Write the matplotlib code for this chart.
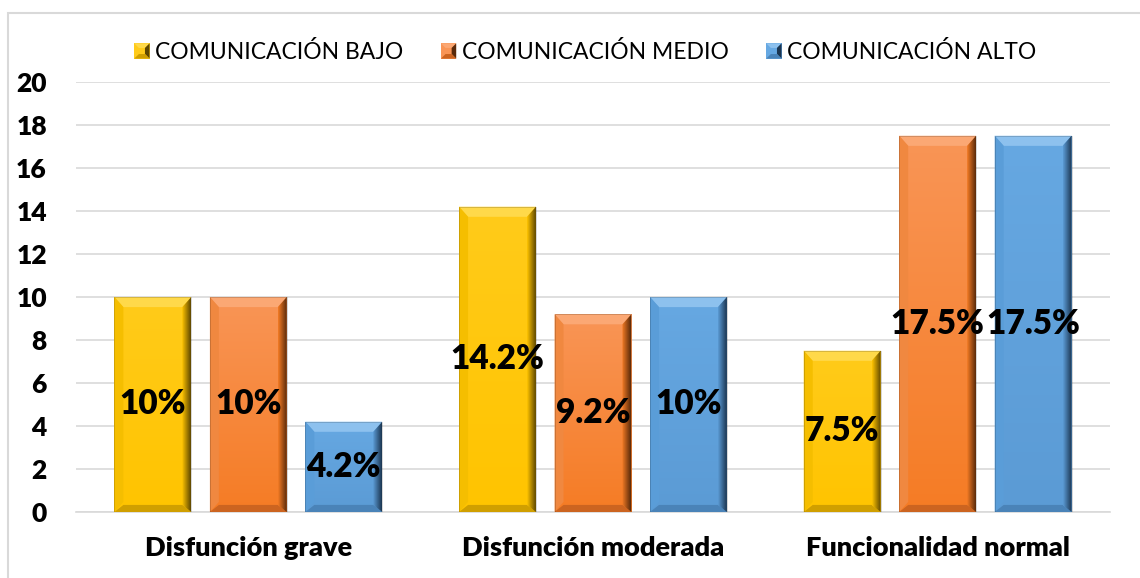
import numpy as np
import matplotlib as mpl
import matplotlib.pyplot as plt
from matplotlib.patches import Polygon, Rectangle
from matplotlib.legend_handler import HandlerBase
from matplotlib.colors import to_rgb

mpl.rcParams["font.family"] = ["Lato", "DejaVu Sans"]

categories = ["Disfunción grave", "Disfunción moderada", "Funcionalidad normal"]
series = ["COMUNICACIÓN BAJO", "COMUNICACIÓN MEDIO", "COMUNICACIÓN ALTO"]
bajo = [10, 14.2, 7.5]
medio = [10, 9.2, 17.5]
alto = [4.2, 10, 17.5]
yticks = [0, 2, 4, 6, 8, 10, 12, 14, 16, 18, 20]

# body top, body bottom, top bevel, left bevel, right bevel dark, bottom bevel
palette = [
	dict(top="#FFCB1A", bot="#FFC400", hi="#FFD94A", lf="#F5BE00", dk="#5E4700", bt="#D09F00"),
	dict(top="#F99556", bot="#F57C25", hi="#FBA874", lf="#F08840", dk="#5A2A0A", bt="#CC6420"),
	dict(top="#66A8E2", bot="#5B9BD5", hi="#8DC1EE", lf="#5A9DD8", dk="#1B3550", bt="#4A83B8"),
]


def grad_fill(ax, clip, extent, c0, c1, horizontal=False, z=3):
	c0, c1 = np.array(to_rgb(c0)), np.array(to_rgb(c1))
	t = np.linspace(0, 1, 64)
	g = c0[None, :] * (1 - t[:, None]) + c1[None, :] * t[:, None]
	img = g[None, :, :] if horizontal else g[:, None, :]
	im = ax.imshow(img, extent=extent, origin="upper" if not horizontal else "lower",
		aspect="auto", zorder=z, interpolation="bilinear")
	im.set_clip_path(clip)


def bevel_bar(ax, rect, pal, dx, dy):
	x0, w, h = rect.get_x(), rect.get_width(), rect.get_height()
	x1 = x0 + w
	grad_fill(ax, rect, (x0, x1, 0, h), pal["top"], pal["bot"])
	ax.add_patch(Polygon([(x0, h), (x1, h), (x1 - dx, h - dy), (x0 + dx, h - dy)],
		fc=pal["hi"], ec="none", zorder=4))
	ax.add_patch(Polygon([(x0, 0), (x0, h), (x0 + dx, h - dy), (x0 + dx, dy)],
		fc=pal["lf"], ec="none", zorder=4))
	ax.add_patch(Polygon([(x0, 0), (x1, 0), (x1 - dx, dy * 0.7), (x0 + dx, dy * 0.7)],
		fc=pal["bt"], ec="none", zorder=4))
	rp = Polygon([(x1, 0), (x1, h), (x1 - dx, h - dy), (x1 - dx, dy * 0.7)], fc="none", ec="none")
	ax.add_patch(rp)
	grad_fill(ax, rp, (x1 - dx, x1, 0, h), pal["bot"], pal["dk"], horizontal=True, z=4)
	ax.add_patch(Rectangle((x0, 0), w, h, fc="none", ec="#00000030", lw=0.6, zorder=5))


class BevelHandler(HandlerBase):
	def __init__(self, pal):
		super().__init__()
		self.pal = pal

	def create_artists(self, legend, orig, xd, yd, width, height, fontsize, trans):
		s = height * 0.95
		x0 = xd + width - s
		y0 = yd + (height - s) / 2
		b = s * 0.3
		p = self.pal
		cx0, cy0, cx1, cy1 = x0, y0, x0 + s, y0 + s
		arts = [
			Rectangle((cx0, cy0), s, s, fc=p["top"], ec="none"),
			Polygon([(cx0, cy1), (cx1, cy1), (cx1 - b, cy1 - b), (cx0 + b, cy1 - b)], fc=p["hi"], ec="none"),
			Polygon([(cx1, cy0), (cx1, cy1), (cx1 - b, cy1 - b), (cx1 - b, cy0 + b)], fc=p["dk"], ec="none"),
			Polygon([(cx0, cy0), (cx1, cy0), (cx1 - b, cy0 + b), (cx0 + b, cy0 + b)], fc=p["bt"], ec="none"),
		]
		for a in arts:
			a.set_transform(trans)
		return arts


fig = plt.figure(figsize=(11.4, 5.78), dpi=100)
ax = fig.add_axes([76 / 1140, 66 / 578, 1034 / 1140, 430 / 578])

x = np.arange(len(categories))
width = 0.223
step = 0.277
dx, dy = 0.026, 0.47

containers = []
for i, vals in enumerate([bajo, medio, alto]):
	bc = ax.bar(x + (i - 1) * step, vals, width, color="none", edgecolor="none", zorder=2, label=series[i])
	containers.append(bc)
	for r in bc:
		bevel_bar(ax, r, palette[i], dx, dy)
	ax.bar_label(bc, labels=[f"{v:g}%" for v in vals], label_type="center",
		fontsize=24, fontweight="heavy", color="black", zorder=10)

ax.set_xlim(-0.5, 2.5)
ax.set_ylim(0, 20)
ax.set_yticks(yticks)
ax.set_xticks(x)
ax.set_xticklabels(categories)
ax.tick_params(axis="y", length=0, pad=21, labelsize=19)
ax.tick_params(axis="x", length=0, pad=17, labelsize=19.5)
for lab in ax.get_xticklabels() + ax.get_yticklabels():
	lab.set_fontweight("heavy")
ax.grid(axis="y", color="#D9D9D9", lw=1.2, zorder=0)
ax.set_axisbelow(True)
for sp in ax.spines.values():
	sp.set_visible(False)
ax.axhline(0, color="#D9D9D9", lw=1.2, zorder=1, clip_on=False)

handles = [c.patches[0] for c in containers]
hmap = {h: BevelHandler(palette[i]) for i, h in enumerate(handles)}
fig.legend(handles, series, handler_map=hmap, loc="center", ncol=3,
	bbox_to_anchor=(585 / 1140, 1 - 52 / 578), frameon=False, fontsize=16.5,
	handlelength=0.7, handletextpad=0.25, columnspacing=1.6)

fig.add_artist(Rectangle((8 / 1140, -0.1), 1.2, 1 - 13 / 578 + 0.1, transform=fig.transFigure,
	fill=False, ec="#D9D9D9", lw=1.5))

fig.savefig("out.png", dpi=100)
